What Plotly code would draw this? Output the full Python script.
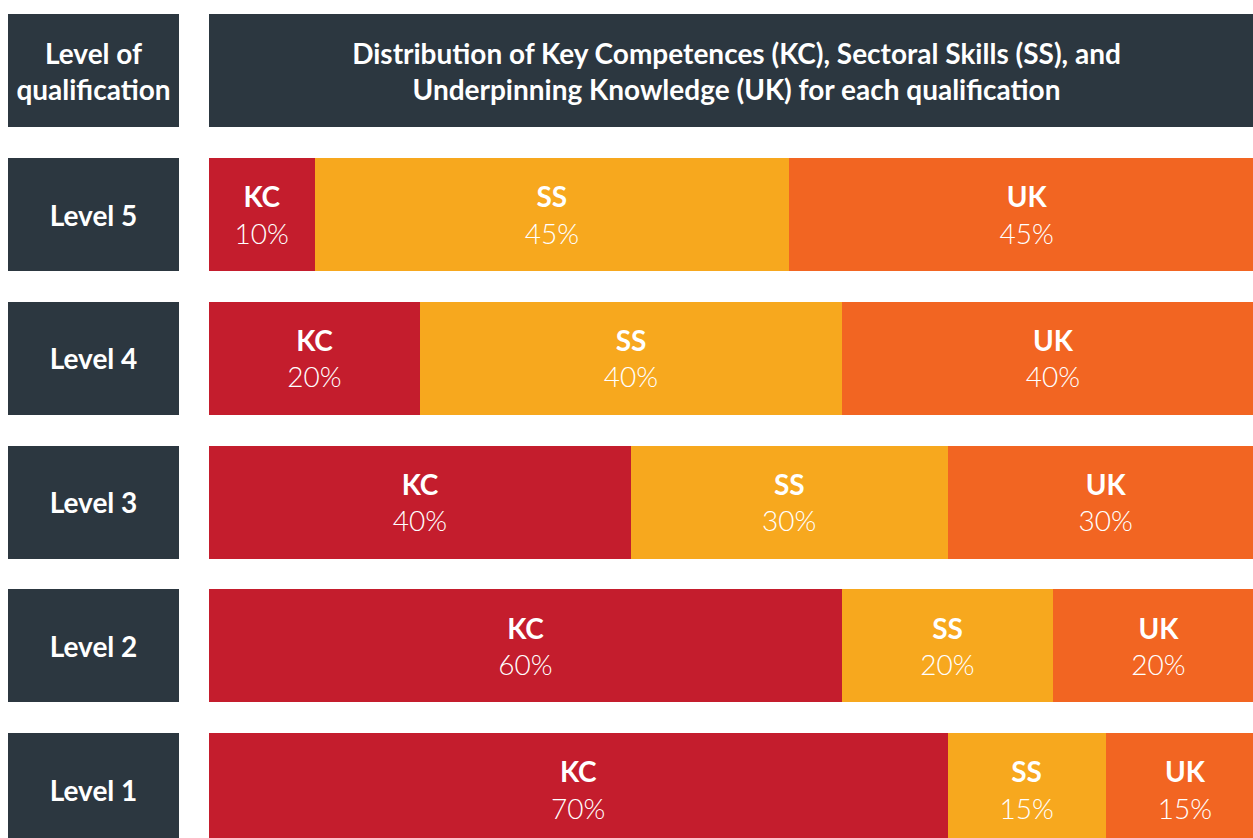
import plotly.graph_objects as go

# ---- data ----
levels = ["Level 5", "Level 4", "Level 3", "Level 2", "Level 1"]
kc = [10, 20, 40, 60, 70]
ss = [45, 40, 30, 20, 15]
uk = [45, 40, 30, 20, 15]
components = ["KC", "SS", "UK"]
left_header = "Level of<br>qualification"
right_header = ("Distribution of Key Competences (KC), Sectoral Skills (SS), and<br>"
                "Underpinning Knowledge (UK) for each qualification")

# ---- styles ----
W, H = 1253, 838
DARK = "#2C3740"
COLORS = {"KC": "#C41D2D", "SS": "#F7A81E", "UK": "#F26522"}
FONT = "Lato, 'Open Sans', sans-serif"
FS = 28
PITCH = 143.75
BW = 113 / PITCH
X0 = 209          # left pixel of the bar area
PX_PER_100 = 1055  # the original chart runs past the right edge

ypos = [int(l.split()[-1]) for l in levels]
header_y = max(ypos) + 1

fig = go.Figure()

# left label column
fig.add_trace(go.Bar(
    x=[1] * (len(levels) + 1), y=ypos + [header_y], orientation="h",
    xaxis="x2", yaxis="y", width=BW,
    marker=dict(color=DARK, line=dict(width=0)),
    text=[f"<b>{l}</b>" for l in levels] + [f"<b>{left_header.replace('<br>', '</b><br><b>')}</b>"],
    textposition="inside", insidetextanchor="middle", textangle=0,
    constraintext="none",
    textfont=dict(family=FONT, size=FS, color="white"),
    hoverinfo="skip", showlegend=False,
))

# right header
fig.add_trace(go.Bar(
    x=[100], y=[header_y], orientation="h", xaxis="x", yaxis="y", width=BW,
    marker=dict(color=DARK, line=dict(width=0)),
    text=["<b>" + right_header.replace("<br>", "</b><br><b>") + "</b>"],
    textposition="inside", insidetextanchor="middle", textangle=0,
    constraintext="none",
    textfont=dict(family=FONT, size=FS, color="white"),
    hoverinfo="skip", showlegend=False,
))

for name, vals in zip(components, [kc, ss, uk]):
    fig.add_trace(go.Bar(
        x=vals, y=ypos, orientation="h", xaxis="x", yaxis="y", width=BW,
        name=name,
        marker=dict(color=COLORS[name], line=dict(width=0)),
        text=[f"<b>{name}</b><br>{v}%" for v in vals],
        textposition="inside", insidetextanchor="middle", textangle=0,
        constraintext="none",
        textfont=dict(family=FONT, size=FS, color="white", weight=300),
        hoverinfo="skip", showlegend=False,
    ))

c1 = 789.5  # pixel centre of Level 1 row
y_top = 1 + c1 / PITCH
y_bot = 1 - (H - c1) / PITCH
x_max = 100 * (W - X0) / PX_PER_100

fig.update_layout(
    width=W, height=H,
    margin=dict(l=0, r=0, t=0, b=0),
    paper_bgcolor="white", plot_bgcolor="white",
    barmode="stack", bargap=0,
    showlegend=False,
    xaxis=dict(domain=[X0 / W, 1], range=[0, x_max], visible=False, fixedrange=True),
    xaxis2=dict(domain=[8 / W, 179 / W], range=[0, 1], visible=False,
                anchor="y", fixedrange=True),
    yaxis=dict(range=[y_bot, y_top], visible=False, fixedrange=True),
)

fig.write_html("out.html",
               config={"displayModeBar": False, "staticPlot": True},
               post_script="document.body.style.margin='0';document.body.style.overflow='hidden';")
